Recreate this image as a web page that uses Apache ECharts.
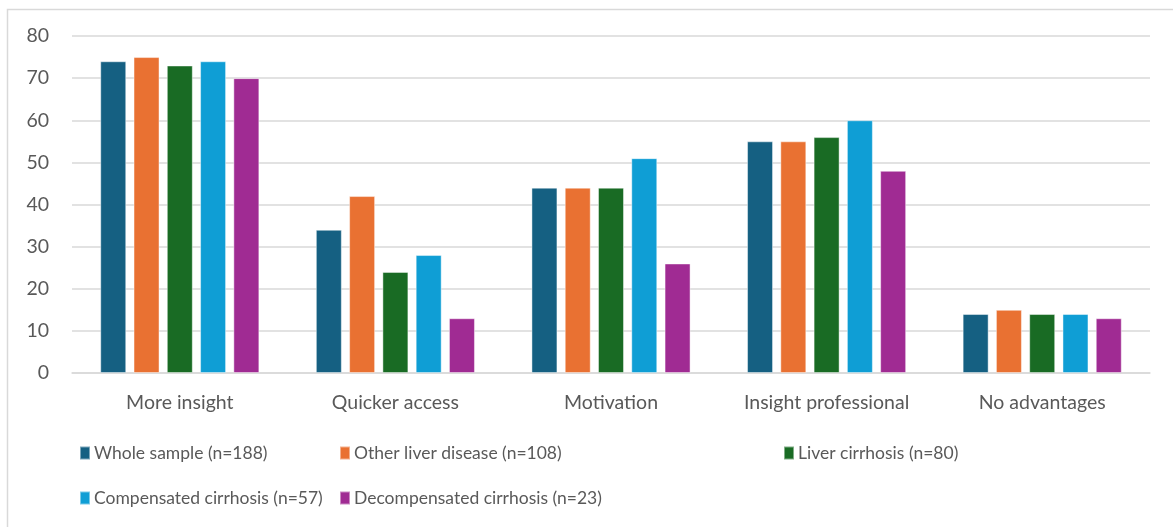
<!DOCTYPE html>
<html>
<head>
<meta charset="utf-8">
<script src="https://cdn.jsdelivr.net/npm/echarts@6/dist/echarts.min.js"></script>
<style>
  html, body { margin: 0; padding: 0; background: #ffffff; }
  #chart { width: 1173px; height: 527px; }
</style>
</head>
<body>
<div id="chart"></div>
<script>
// Reported advantages per patient group (%)
const categories = ['More insight', 'Quicker access', 'Motivation', 'Insight professional', 'No advantages'];
const seriesNames = [
  'Whole sample (n=188)',
  'Other liver disease (n=108)',
  'Liver cirrhosis (n=80)',
  'Compensated cirrhosis (n=57)',
  'Decompensated cirrhosis (n=23)'
];
const wholeSample = [74, 34, 44, 55, 14];
const otherLiverDisease = [75, 42, 44, 55, 15];
const liverCirrhosis = [73, 24, 44, 56, 14];
const compensatedCirrhosis = [74, 28, 51, 60, 14];
const decompensatedCirrhosis = [70, 13, 26, 48, 13];
const yTicks = [0, 10, 20, 30, 40, 50, 60, 70, 80];

const values = [wholeSample, otherLiverDisease, liverCirrhosis, compensatedCirrhosis, decompensatedCirrhosis];
const colors = ['#156082', '#E97132', '#196B24', '#0F9ED5', '#A02B93'];
const textColor = '#595959';
const font = 'Lato, Roboto, sans-serif';

const chart = echarts.init(document.getElementById('chart'), null, { renderer: 'canvas' });

// one legend block per entry so the two-row layout keeps its own spacing
const legendSpots = [
  { left: 79, top: 444 },
  { left: 339, top: 444 },
  { left: 783, top: 444 },
  { left: 79, top: 489 },
  { left: 339, top: 489 }
];
const legends = seriesNames.map((name, i) => ({
  data: [name],
  left: legendSpots[i].left,
  top: legendSpots[i].top,
  orient: 'horizontal',
  itemWidth: 10,
  itemHeight: 13,
  itemGap: 0,
  padding: 0,
  icon: 'rect',
  textStyle: { color: textColor, fontSize: 17.5, fontFamily: font, padding: [0, 0, 0, -1] },
  selectedMode: false
}));

const option = {
  animation: false,
  backgroundColor: '#ffffff',
  color: colors,
  textStyle: { fontFamily: font },
  graphic: [{
    type: 'rect',
    shape: { x: 7.5, y: 9.5, width: 1300, height: 700 },
    style: { fill: 'none', stroke: '#d9d9d9', lineWidth: 1.5 },
    silent: true,
    z: -1
  }],
  legend: legends,
  grid: { left: 72, right: 23, top: 36, bottom: 154, containLabel: false },
  xAxis: {
    type: 'category',
    data: categories,
    axisLine: { show: true, lineStyle: { color: '#d9d9d9', width: 1.5 } },
    axisTick: { show: false },
    axisLabel: { color: textColor, fontSize: 19.5, fontFamily: font, margin: 20, interval: 0 }
  },
  yAxis: {
    type: 'value',
    min: yTicks[0],
    max: yTicks[yTicks.length - 1],
    interval: 10,
    axisLine: { show: false },
    axisTick: { show: false },
    axisLabel: { color: textColor, fontSize: 19.5, fontFamily: font, margin: 23 },
    splitLine: { show: true, lineStyle: { color: '#d9d9d9', width: 1.5 } }
  },
  series: seriesNames.map((name, i) => ({
    name: name,
    type: 'bar',
    data: values[i],
    barWidth: 26,
    barGap: '28%',
    itemStyle: { color: colors[i], borderColor: 'rgba(255,255,255,0.45)', borderWidth: 1 }
  }))
};

chart.setOption(option);
</script>
</body>
</html>
